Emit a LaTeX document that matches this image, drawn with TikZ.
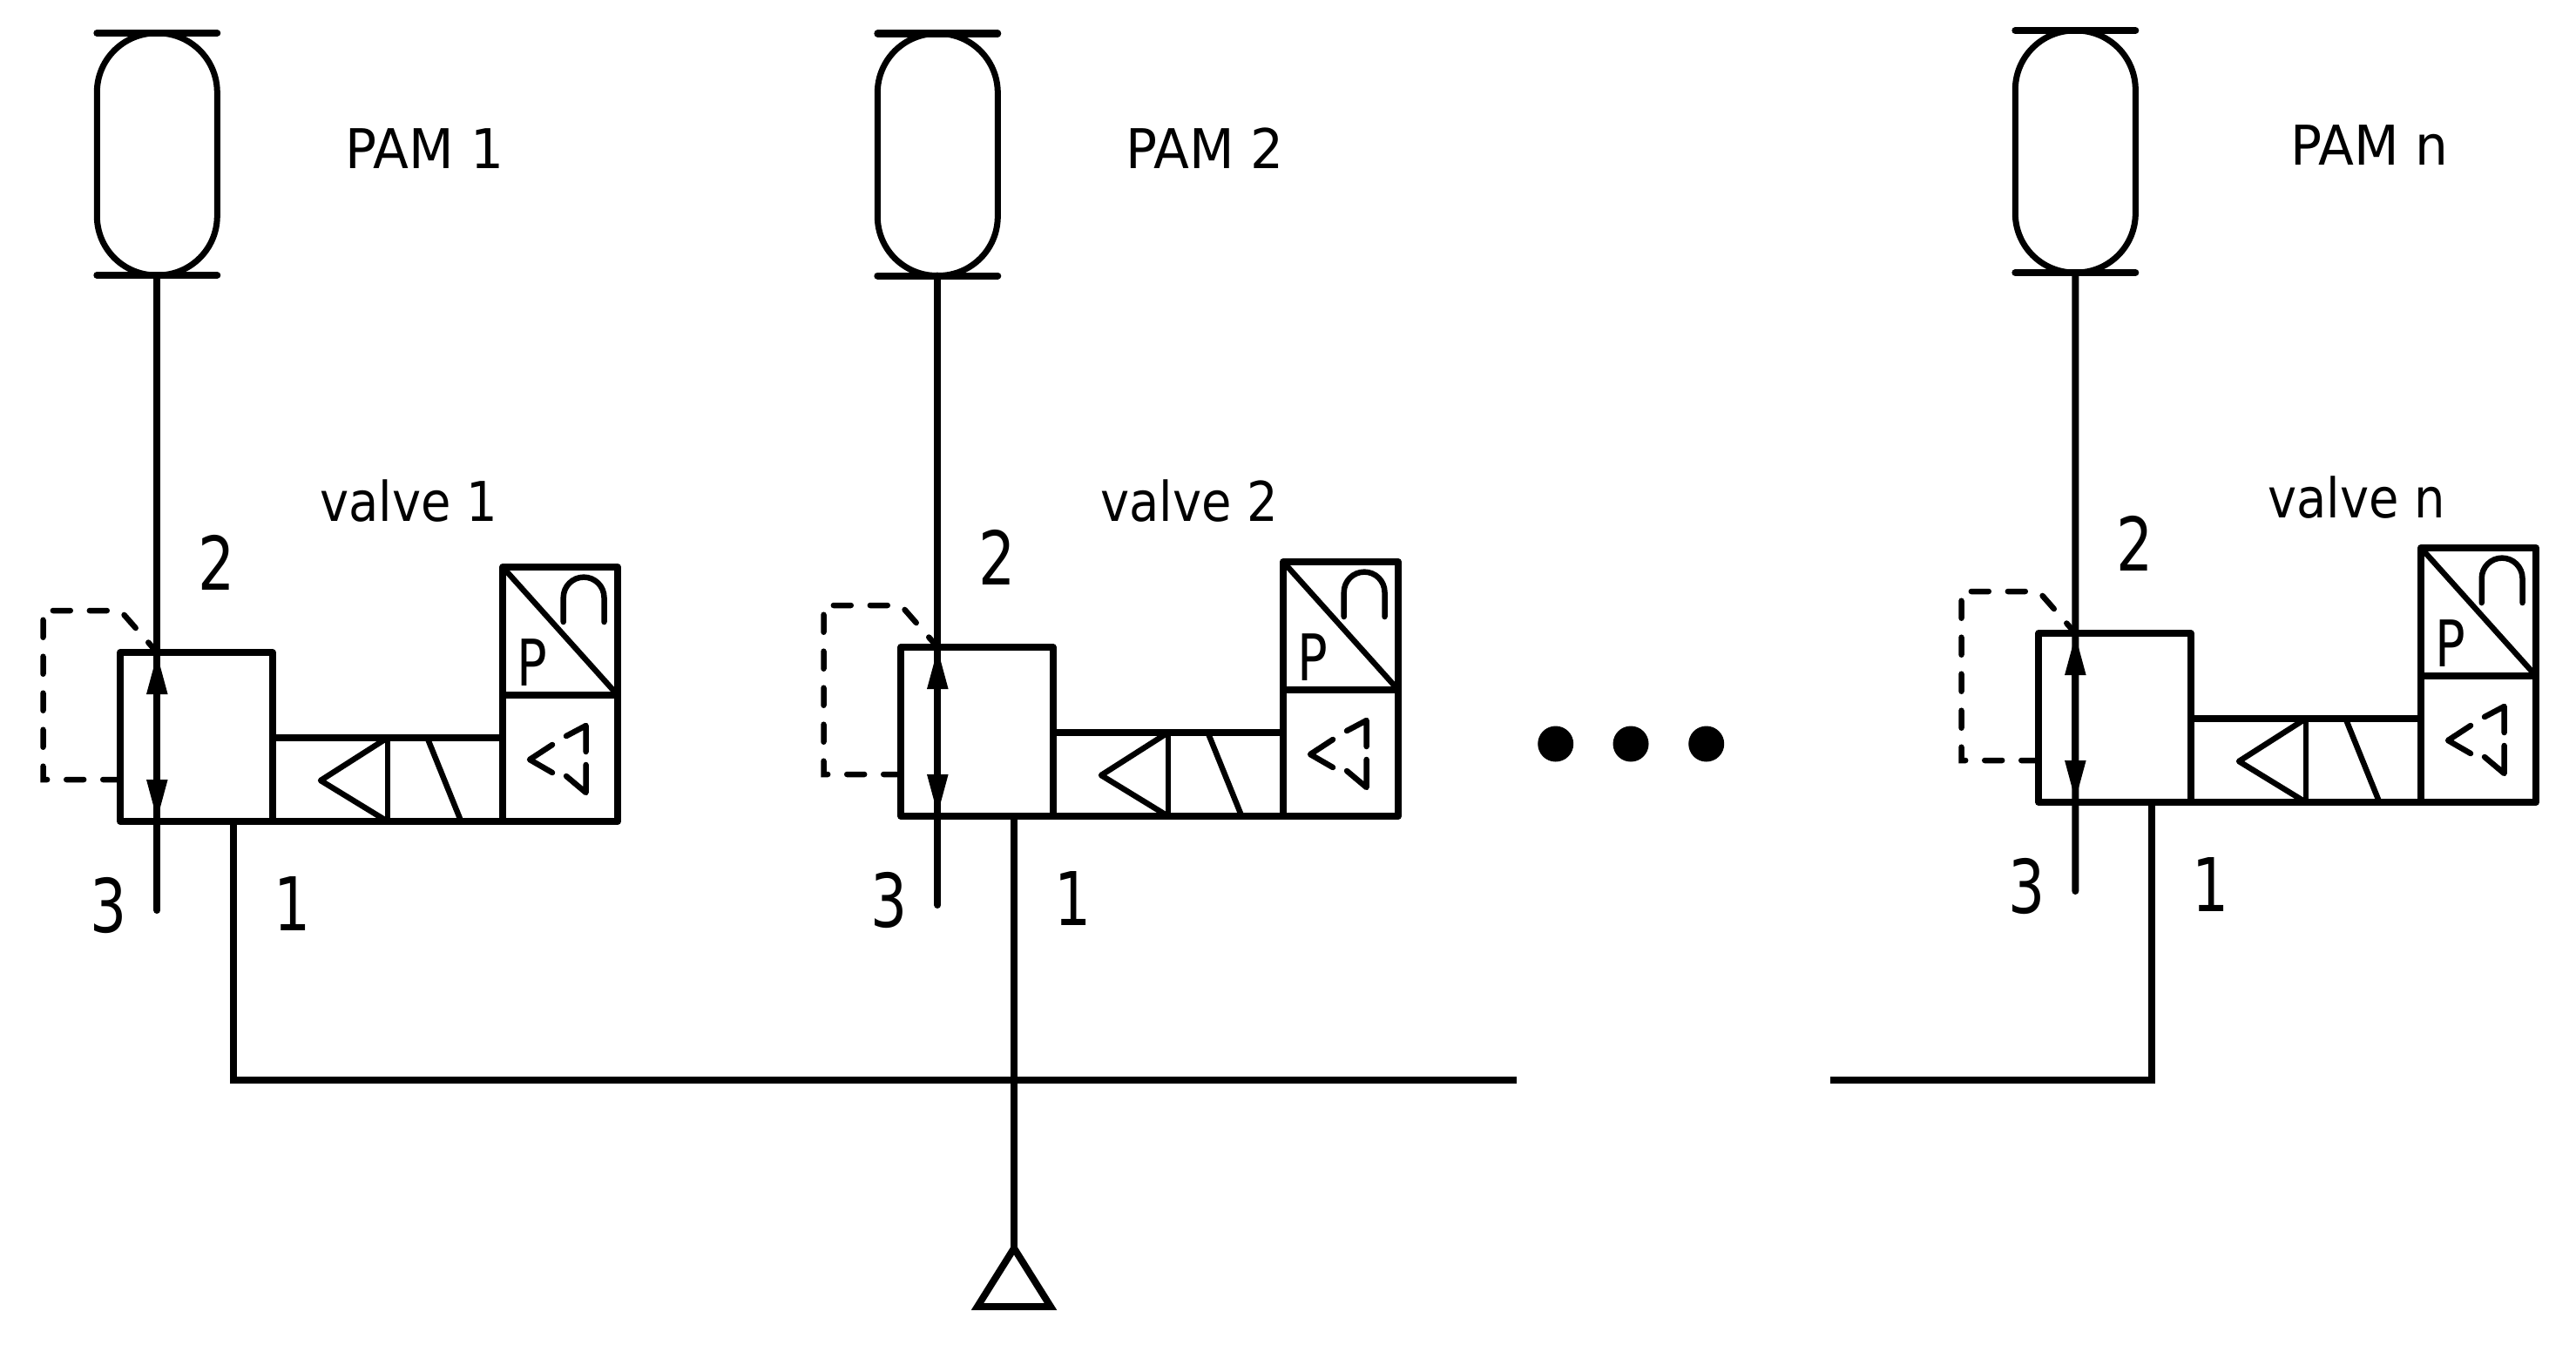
\documentclass[tikz,border=0pt]{standalone}
\usepackage{fontspec}
\usepackage{tikz}
\usetikzlibrary{arrows.meta}
\newfontfamily\labelfont[FakeStretch=0.89]{DejaVu Sans}
\newfontfamily\pamfont[FakeStretch=0.95]{DejaVu Sans}
\newfontfamily\portfont[FakeStretch=0.78]{DejaVu Sans}

\begin{document}
\begin{tikzpicture}[line width = 0.08cm,
                        cell/.style = {rectangle, draw, outer sep = 0, inner sep = 0, line join = round},
                        capsule/.style = {rectangle, draw, line width = 0.07cm, outer sep = 0, inner sep = 0, minimum width = 1.38cm, minimum height = 2.78cm, rounded corners = 0.68cm},
                        capbar/.style = {line width = 0.08cm, line cap = round},
                        decal/.style = {line width = 0.065cm, line cap = round, line join = round},
                        pilot/.style = {line width = 0.065cm, line cap = round, dash pattern = on 0.2cm off 0.22cm},
                        porttip/.style = {{Triangle[length = 0.48cm, width = 0.22cm]}-{Triangle[length = 0.48cm, width = 0.22cm]}},
                        pamname/.style = {anchor = base, inner sep = 0, font = \pamfont\fontsize{17.9}{20}\selectfont},
                        valvename/.style = {anchor = base, inner sep = 0, font = \labelfont\fontsize{17.9}{20}\selectfont},
                        portnum/.style = {anchor = base, inner sep = 0, font = \portfont\fontsize{24.2}{28}\selectfont},
                        letter/.style = {anchor = base, inner sep = 0, font = \portfont\fontsize{21}{24}\selectfont},
                        dot/.style = {circle, fill = black, inner sep = 0, minimum size = 0.41cm}]
      \useasboundingbox (0, 0) rectangle (29.57, -15.5);
      \foreach \v/\x/\y/\ax/\ay/\bx/\by in {1/1.803/-1.77/4.875/-1.93/4.69/-5.98,
                                            2/10.763/-1.775/13.83/-1.93/13.65/-5.98,
                                            n/23.823/-1.74/27.20/-1.89/27.05/-5.94} {
        \node [capsule] (pam\v) at (\x, \y){};
        \draw [capbar] ([xshift = -0.69cm]pam\v.north) -- ([xshift = 0.69cm]pam\v.north);
        \draw [capbar] ([xshift = -0.69cm]pam\v.south) -- ([xshift = 0.69cm]pam\v.south);
        \node [pamname] (pamlabel\v) at (\ax, \ay){PAM \v};
        \node [valvename] (valvelabel\v) at (\bx, \by){valve \v};
      }
      \foreach \v/\dx/\dy in {1/0/0, 2/8.96/0.06, n/22.02/0.22} {
        \begin{scope}[shift = {(\dx, \dy)}]
          \node [cell, minimum width = 1.744cm, minimum height = 1.94cm] (body\v) at (2.254, -8.46){};
          \node [cell, minimum width = 2.644cm, minimum height = 0.96cm] (coil\v) at (4.448, -8.95){};
          \node [cell, minimum width = 1.32cm, minimum height = 1.45cm] (supply\v) at (6.43, -8.705){};
          \node [cell, minimum width = 1.32cm, minimum height = 1.47cm] (sensor\v) at (6.43, -7.245){};
          \coordinate (top\v) at (1.803, -7.49);
          \coordinate (bottom\v) at (1.803, -9.43);
          \coordinate (exhaust\v) at (1.803, -10.45);
          \coordinate (feed\v) at (2.68, -9.43);
          \coordinate (tap\v) at (1.382, -8.95);
          \coordinate (corner\v) at (0.495, -8.95);
          \coordinate (bend\v) at (0.495, -7.01);
          \coordinate (knee\v) at (1.382, -7.01);
          \draw [line cap = round] (pam\v.south) -- (exhaust\v);
          \draw [porttip] (top\v) -- (bottom\v);
          \draw [pilot] (tap\v) -- (corner\v) -- (bend\v) -- (knee\v) -- (top\v);
          \draw [decal] (4.448, -8.47) -- (4.448, -9.43);
          \draw [decal, line cap = butt] (4.448, -8.47) -- (3.68, -8.96) -- (4.448, -9.43);
          \draw [decal, line cap = butt] (4.905, -8.47) -- (5.293, -9.43);
          \draw [decal, line cap = butt] (5.77, -6.51) -- (7.09, -7.98);
          \draw [decal] (6.467, -7.14) -- (6.467, -6.86) arc (180:0:0.234) -- (6.935, -7.14);
          \draw [decal] (6.34, -8.55) -- (6.08, -8.72) -- (6.34, -8.87);
          \draw [decal] (6.50, -8.45) -- (6.726, -8.33) -- (6.726, -8.63);
          \draw [decal] (6.726, -8.78) -- (6.726, -9.10) -- (6.50, -8.91);
          \node [letter] (gauge\v) at (6.11, -7.87){P};
          \node [portnum] (num2\v) at (2.49, -6.77){2};
          \node [portnum] (num3\v) at (1.245, -10.70){3};
          \node [portnum] (num1\v) at (3.36, -10.68){1};
        \end{scope}
      }
      \coordinate (busa) at (17.41, -12.40);
      \coordinate (busb) at (21.01, -12.40);
      \coordinate (source) at (11.64, -14.33);
      \draw (feed1) |- (busa);
      \draw (busb) -| (feedn);
      \draw (feed2) -- (source);
      \draw (source) -- ++(-0.42, -0.67) -- ++(0.84, 0) -- cycle;
      \node [dot] (dot1) at (17.857, -8.54){};
      \node [dot] (dot2) at (18.72, -8.54){};
      \node [dot] (dot3) at (19.587, -8.54){};
    \end{tikzpicture}
\end{document}
